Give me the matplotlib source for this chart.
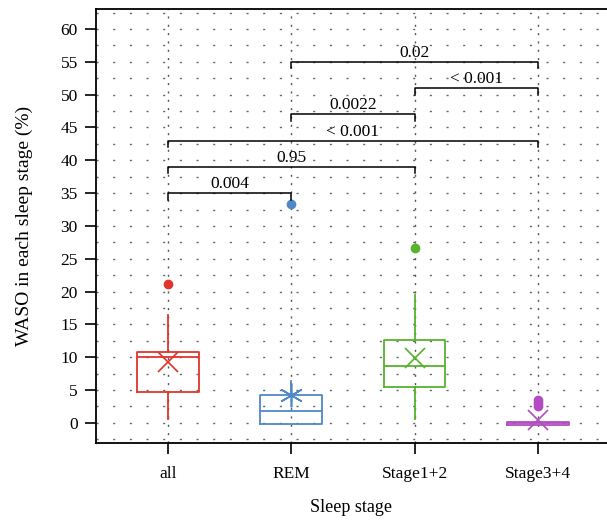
import matplotlib
matplotlib.use('Agg')
import numpy as np
import matplotlib.pyplot as plt

# data
stages = ['all', 'REM', 'Stage1+2', 'Stage3+4']
q1 = [4.7, -0.2, 5.4, -0.4]
med = [10.0, 1.8, 8.6, 0.0]
q3 = [10.8, 4.3, 12.6, 0.2]
whislo = [0.6, -0.2, 0.6, -0.4]
whishi = [16.4, 6.3, 19.5, 0.2]
means = [9.3, 4.3, 9.85, 0.5]
fliers = [[21.1], [33.3], [26.7], [2.6, 3.0, 3.5]]
colors = ['#e0352b', '#4f88c6', '#56b32b', '#b14dc0']
mean_markers = ['x', (6, 2, 0), 'x', 'x']

# significance brackets: (from, to, height, label)
pairs_from = [0, 0, 0, 1, 2, 1]
pairs_to = [1, 2, 3, 2, 3, 3]
pair_y = [35, 39, 43, 47, 51, 55]
pair_p = ['0.004', '0.95', '< 0.001', '0.0022', '< 0.001', '0.02']

plt.rcParams['font.family'] = ['Liberation Serif', 'DejaVu Serif']

fig = plt.figure(figsize=(6.07, 5.2), dpi=100)
ax = fig.add_axes([0.158, 0.149, 0.842, 0.833])

pos = np.arange(len(stages))
ax.set_xlim(-0.584, 3.56)
ax.set_ylim(-3, 63)

# grid
for yv in np.arange(-2.5, 63, 2.5):
    ax.axhline(yv, color='#666666', lw=1.0, ls=(0, (1.5, 10.5)), zorder=0)
for xv in pos:
    ax.axvline(xv, color='#555555', lw=1.0, ls=(0, (1.5, 4.5)), zorder=0)

for i in range(len(stages)):
    st = [dict(med=med[i], q1=q1[i], q3=q3[i], whislo=whislo[i],
               whishi=whishi[i], fliers=fliers[i])]
    c = colors[i]
    ax.bxp(st, positions=[pos[i]], widths=0.5, showcaps=False,
           boxprops=dict(color=c, lw=1.3),
           medianprops=dict(color=c, lw=1.3),
           whiskerprops=dict(color=c, lw=1.3),
           flierprops=dict(marker='o', markerfacecolor=c, markeredgecolor=c,
                           markersize=6),
           manage_ticks=False)
    ax.plot(pos[i], means[i], marker=mean_markers[i], color=c,
            markersize=15 if mean_markers[i] == 'x' else 17,
            mew=1.2, ls='none', zorder=5)

for a, b, h, lab in zip(pairs_from, pairs_to, pair_y, pair_p):
    ax.plot([pos[a], pos[a], pos[b], pos[b]], [h - 1, h, h, h - 1],
            color='black', lw=1.1, zorder=6)
    ax.text((pos[a] + pos[b]) / 2, h + 0.15, lab, ha='center', va='bottom',
            fontsize=12.5, zorder=7)

ax.set_xticks(pos)
ax.set_xticklabels(stages)
ax.set_yticks(np.arange(0, 61, 5))
ax.tick_params(axis='y', labelsize=12.5, length=8, width=1.2, direction='out', pad=5)
ax.tick_params(axis='x', labelsize=12.5, length=8, width=1.2, direction='out', pad=9)
ax.spines['right'].set_visible(False)
for s in ['left', 'bottom', 'top']:
    ax.spines[s].set_linewidth(1.3)

ax.set_xlabel('Sleep stage', fontsize=13, labelpad=12)
ax.set_ylabel('WASO in each sleep stage (%)', fontsize=14, labelpad=20)

fig.savefig('out.png', dpi=100)
